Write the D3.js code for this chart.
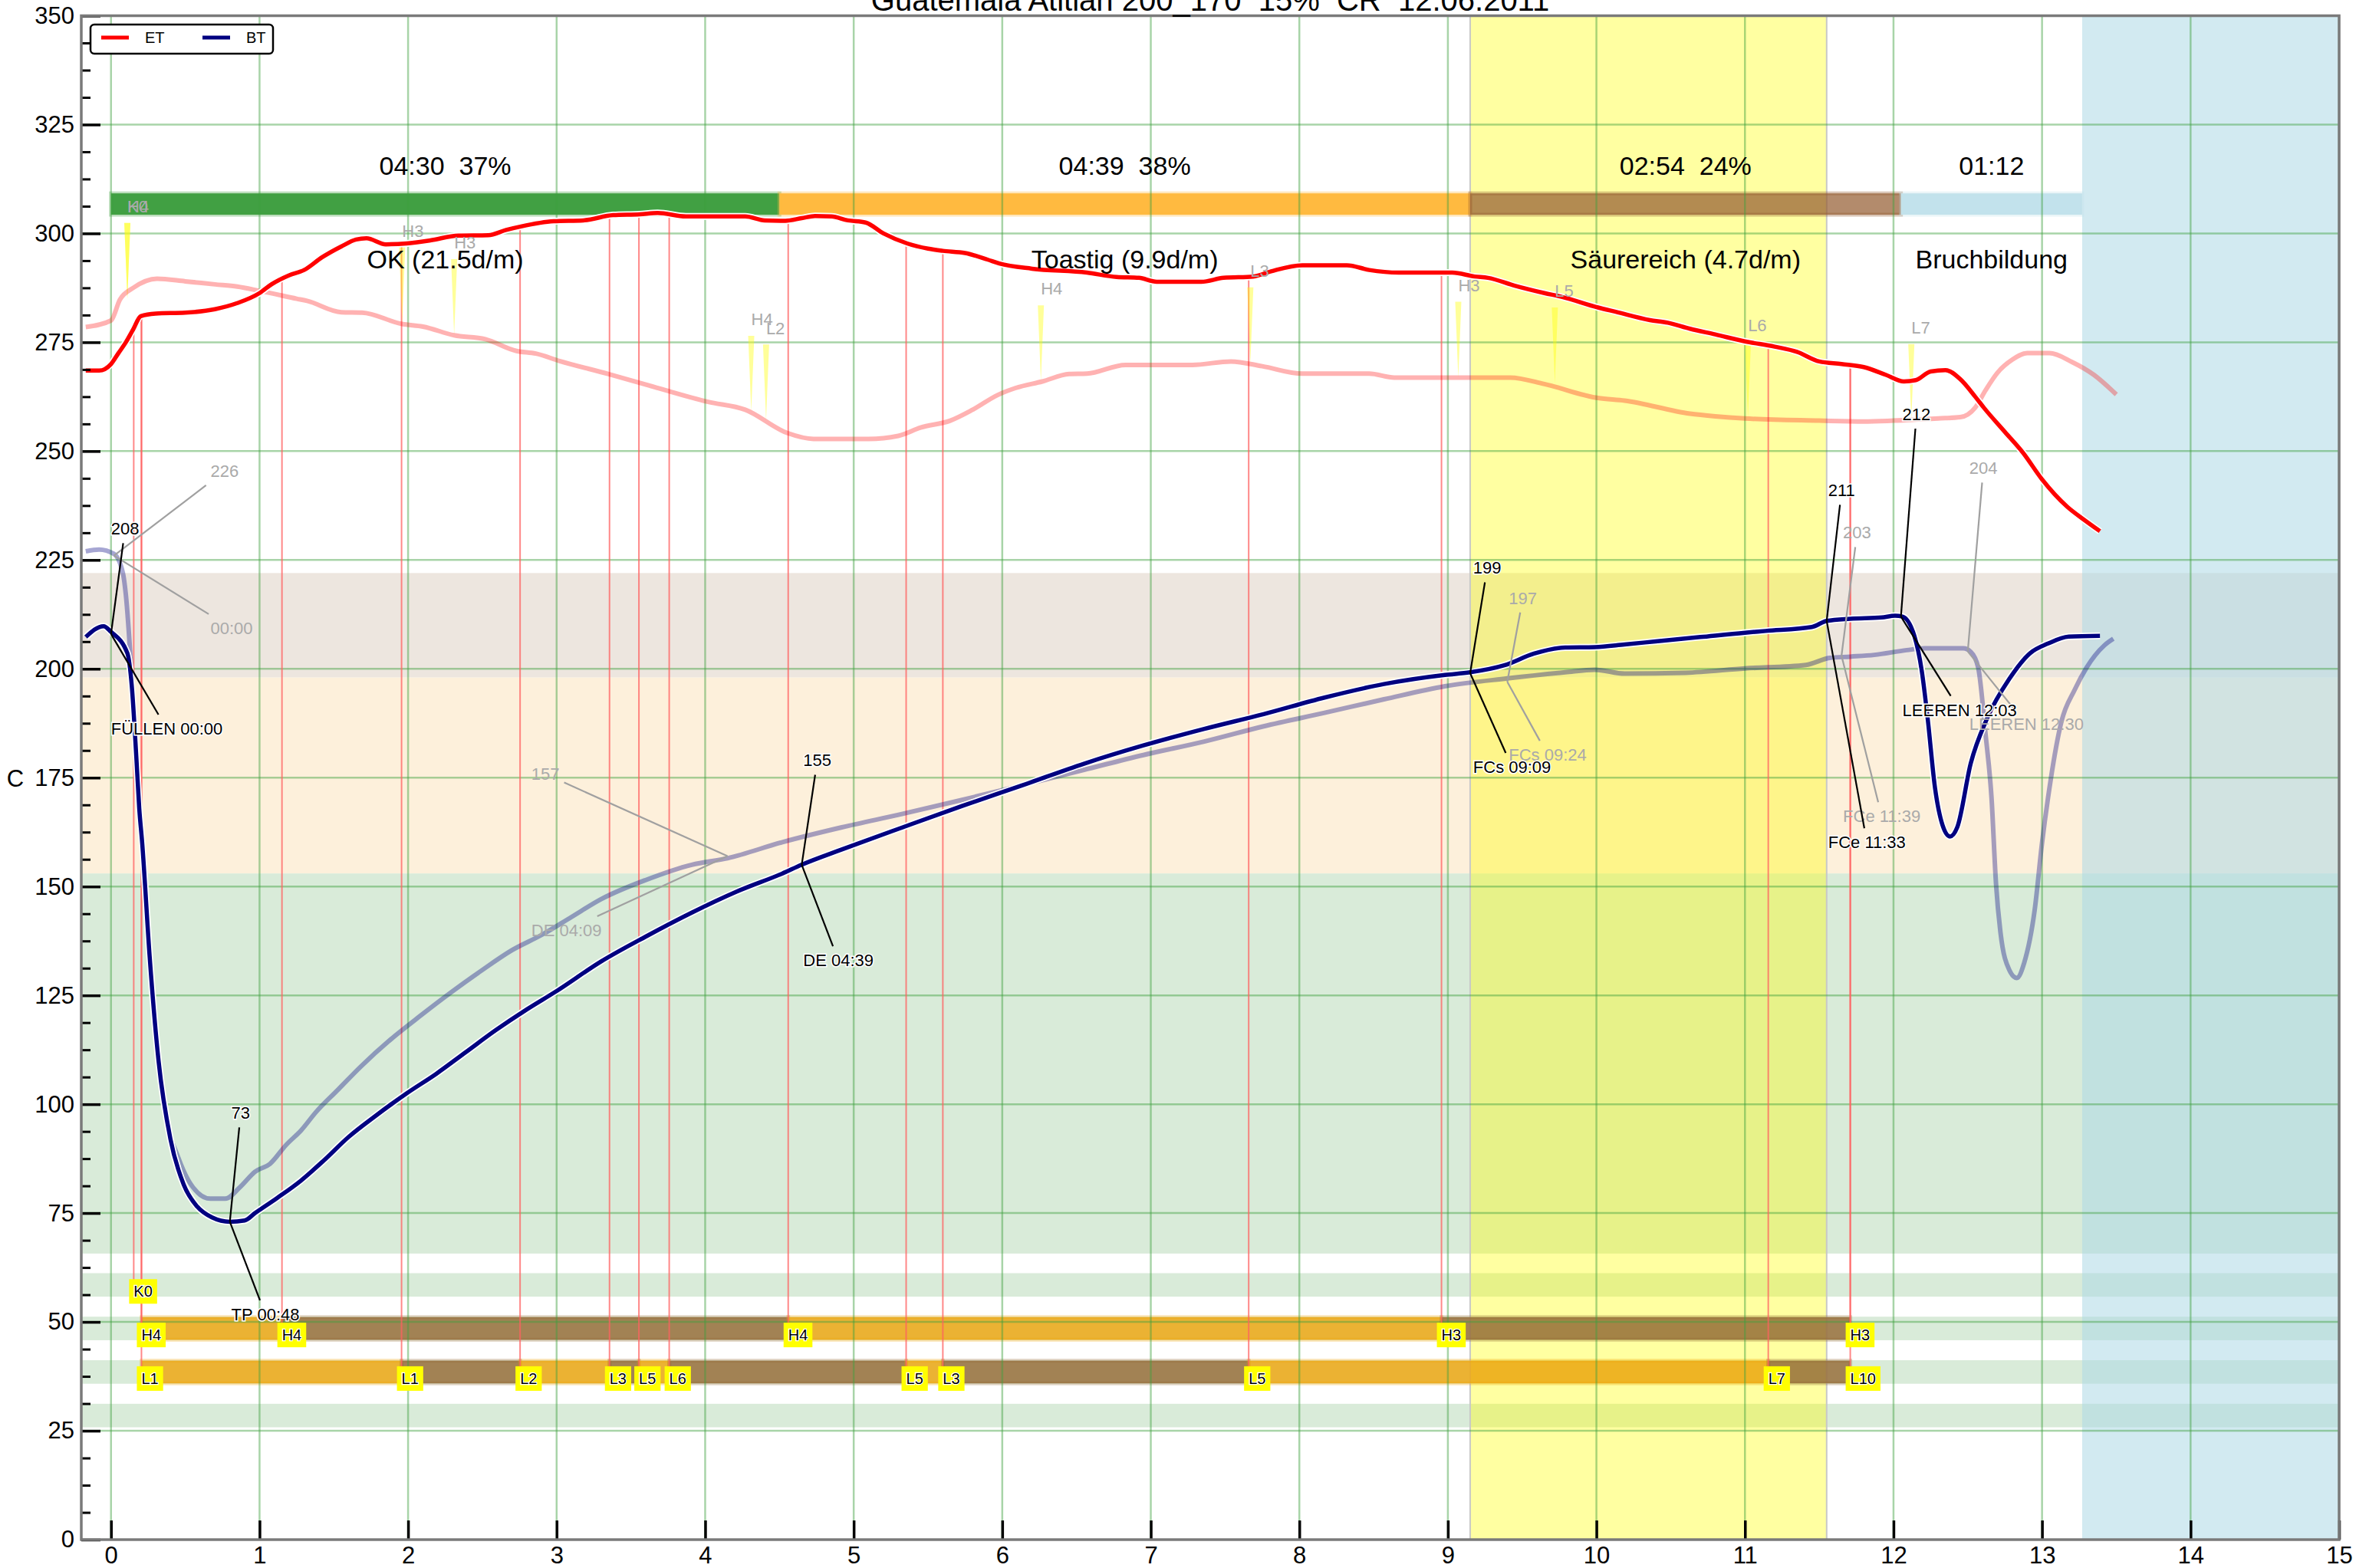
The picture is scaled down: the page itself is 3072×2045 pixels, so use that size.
<!DOCTYPE html>
<html>
<head>
<meta charset="utf-8">
<script src="https://cdn.jsdelivr.net/npm/d3@7/dist/d3.min.js"></script>
<style>
  html, body { margin: 0; padding: 0; background: #fff; }
  svg { display: block; font-family: "Liberation Sans", Arial, sans-serif; }
  .pre { white-space: pre; }
</style>
</head>
<body>
<svg id="chart" width="3072" height="2045"></svg>
<script>
// ---- data (minutes, degrees) ----
const title = "Guatemala Atitlan 200_170  15%  CR  12.06.2011";

const ET = [[-0.17,268.5],[-0.08,268.5],[0.0,270],[0.05,272.5],[0.1,275],[0.15,278],[0.2,281],[0.3,281.6],[0.5,281.8],[0.7,282.6],[0.85,284],[1.0,286.3],[1.08,288.3],[1.2,290.4],[1.3,291.6],[1.42,294.5],[1.55,297],[1.65,298.6],[1.72,298.9],[1.85,297.5],[1.99,297.7],[2.15,298.4],[2.34,299.5],[2.54,299.6],[2.66,300.8],[2.76,301.6],[2.98,302.8],[3.18,303],[3.38,304.2],[3.56,304.4],[3.68,304.7],[3.87,303.9],[4.27,303.9],[4.4,303],[4.54,302.9],[4.65,303.5],[4.74,304],[4.85,303.9],[4.96,303],[5.08,302.5],[5.2,300],[5.36,297.7],[5.5,296.5],[5.6,296],[5.75,295.5],[5.9,294],[5.98,293.1],[6.2,291.9],[6.57,291],[6.77,290],[6.92,289.8],[7.04,288.9],[7.34,288.9],[7.49,289.8],[7.69,290.1],[7.81,291.3],[8.02,292.7],[8.32,292.7],[8.47,291.6],[8.67,291],[9.03,291],[9.18,290.1],[9.27,289.8],[9.45,288],[9.65,286.3],[9.77,285.4],[10.01,283],[10.13,282],[10.36,280.1],[10.48,279.5],[10.63,278.1],[10.8,276.8],[11.0,275.2],[11.2,274],[11.35,272.8],[11.5,270.6],[11.65,270],[11.8,269.3],[11.95,267.5],[12.07,266],[12.15,266.3],[12.25,268.3],[12.35,268.6],[12.45,266.5],[12.55,262.5],[12.61,259.9],[12.75,254.4],[12.87,249.7],[13.0,243.5],[13.17,237.2],[13.28,234.3],[13.39,231.6]];

const BT = [[-0.17,207.3],[-0.05,209.8],[0.0,208.5],[0.11,203.6],[0.14,196],[0.17,180],[0.19,168],[0.21,160],[0.26,134],[0.32,110],[0.4,92],[0.49,81.5],[0.58,76.5],[0.68,74],[0.8,73],[0.9,73.3],[0.97,75],[1.12,78.5],[1.28,82.5],[1.43,87],[1.6,92.5],[1.78,97.3],[1.99,102.5],[2.19,107],[2.39,112],[2.59,117],[2.8,121.8],[3.0,126],[3.3,132.8],[3.6,138.5],[3.91,144],[4.21,148.8],[4.52,153],[4.65,155],[4.92,158.5],[5.33,163.6],[5.73,168.5],[6.14,173.3],[6.55,178.2],[6.95,182.4],[7.36,186.2],[7.76,189.6],[8.17,193.4],[8.57,196.5],[8.98,198.6],[9.15,199.2],[9.38,200.8],[9.58,203.5],[9.79,204.9],[9.99,205],[10.19,205.6],[10.4,206.3],[10.7,207.3],[11.0,208.3],[11.14,208.7],[11.45,209.6],[11.55,211],[11.71,211.5],[11.92,211.8],[12.01,212.2],[12.06,212],[12.14,207.6],[12.19,199.6],[12.23,188.6],[12.28,172.5],[12.33,164.1],[12.38,161.5],[12.43,163.7],[12.52,178.3],[12.63,188.6],[12.78,197.7],[12.92,203.6],[13.04,205.8],[13.18,207.4],[13.39,207.6]];

const bgET = [[-0.17,278.5],[0.0,280],[0.06,284.8],[0.15,287.5],[0.31,289.6],[0.5,289],[0.7,288.3],[0.85,287.8],[1.0,286.8],[1.25,285],[1.32,284.5],[1.55,281.9],[1.69,281.8],[1.96,279.2],[2.1,278.6],[2.31,276.6],[2.52,275.7],[2.73,273],[2.86,272.4],[3.02,270.7],[3.35,267.7],[3.62,265.1],[4.02,261.3],[4.27,259.5],[4.55,254.2],[4.73,252.8],[5.1,252.8],[5.3,253.5],[5.45,255.4],[5.65,257],[5.8,259.5],[5.97,262.9],[6.09,264.5],[6.27,266],[6.45,267.7],[6.57,267.8],[6.83,269.8],[7.28,269.8],[7.54,270.6],[7.75,269.5],[8.02,267.8],[8.47,267.8],[8.64,266.9],[9.42,266.9],[9.65,265.4],[10.01,262.2],[10.19,261.6],[10.63,258.6],[10.8,258],[11.0,257.5],[11.5,257],[11.8,256.8],[12.0,257],[12.3,257.5],[12.45,257.8],[12.55,260],[12.62,264],[12.7,268],[12.8,271],[12.9,272.5],[13.05,272.5],[13.2,270.5],[13.35,267.5],[13.5,263]];

const bgBT = [[-0.17,227],[-0.08,227.4],[0.02,226.4],[0.08,222],[0.1,217],[0.14,198],[0.18,174],[0.22,153],[0.26,132.5],[0.3,115.5],[0.36,98.5],[0.45,88],[0.55,81],[0.67,78.3],[0.77,78.3],[0.87,81],[0.97,84.5],[1.07,86.3],[1.18,90.7],[1.28,94],[1.38,98.2],[1.53,103.4],[1.68,108.6],[1.88,114.8],[2.09,120.5],[2.29,125.7],[2.49,130.6],[2.7,135.4],[2.9,138.9],[3.1,143],[3.3,147.1],[3.6,151.5],[3.91,155],[4.15,156.5],[4.52,160.2],[4.92,163.6],[5.33,166.7],[5.73,169.9],[6.14,173.3],[6.55,176.8],[6.95,180.2],[7.36,183.3],[7.76,186.8],[8.17,189.9],[8.57,193],[8.98,196],[9.4,197.8],[9.79,199.2],[9.99,199.8],[10.19,198.9],[10.6,199.1],[11.0,200.1],[11.41,200.9],[11.57,202.5],[11.71,202.8],[11.87,203.2],[12.09,204.3],[12.21,204.7],[12.47,204.7],[12.52,203.9],[12.57,200.3],[12.62,184.9],[12.66,170.3],[12.69,150.7],[12.72,139.5],[12.78,130.8],[12.83,129],[12.88,132.5],[12.95,144.5],[13.0,160],[13.04,170.3],[13.13,187.8],[13.22,195.2],[13.3,200.3],[13.42,205.4],[13.48,206.9]];

// roast phases
const phaseStart = [0, 4.5, 9.15, 12.05];
const phaseEnd   = [4.5, 9.15, 12.05, 13.27];
const phaseTimes = ["04:30  37%", "04:39  38%", "02:54  24%", "01:12"];
const phaseNames = ["OK (21.5d/m)", "Toastig (9.9d/m)", "Säurereich (4.7d/m)", "Bruchbildung"];

// first crack window and cooling
const fcWindow = [9.15, 11.55];
const coolWindow = [13.27, 15];

// temperature bands
const bandLow  = [198, 153, 65.7];
const bandHigh = [222, 198, 153];

// event lanes (K, H, L, spare)
const laneNames  = ["K", "H", "L", "X"];
const laneLevels = [58.5, 48.5, 38.5, 28.5];

// foreground events
const evTime  = [0.153, 0.205, 0.205, 1.151, 1.956, 2.754, 3.356, 3.554, 3.758, 4.559, 5.353, 5.6, 7.659, 8.957, 11.157, 11.709, 11.709];
const evLabel = ["K0", "H4", "L1", "H4", "L1", "L2", "L3", "L5", "L6", "H4", "L5", "L3", "L5", "H3", "L7", "H3", "L10"];

// background profile events (time, ET value, label)
const bgEvTime  = [0.11, 0.11, 1.96, 2.31, 4.31, 4.41, 6.26, 7.67, 9.07, 9.72, 11.02, 12.12];
const bgEvTemp  = [285, 285, 279.4, 276.7, 259.1, 257.1, 266.1, 270.2, 266.9, 265.6, 257.8, 257.2];
const bgEvLabel = ["K0", "H4", "H3", "H3", "H4", "L2", "H4", "L3", "H3", "L5", "L6", "L7"];

// annotations: point (t, v), value label position, time label position
const fgAnno = [
  {t: 0,     v: 208, val: "208", time: "FÜLLEN 00:00", tx: 0,     vy: 230.8, ty: 184.9},
  {t: 0.8,   v: 73,  val: "73",  time: "TP 00:48",     tx: 0.81,  vy: 96.6,  ty: 50.4},
  {t: 4.65,  v: 155, val: "155", time: "DE 04:39",     tx: 4.66,  vy: 177.6, ty: 131.7},
  {t: 9.15,  v: 199, val: "199", time: "FCs 09:09",    tx: 9.17,  vy: 221.8, ty: 176.1},
  {t: 11.55, v: 211, val: "211", time: "FCe 11:33",    tx: 11.56, vy: 239.6, ty: 158.8},
  {t: 12.05, v: 212, val: "212", time: "LEEREN 12:03", tx: 12.06, vy: 257.1, ty: 189.2}
];
const bgAnno = [
  {t: 0.02,  v: 226, val: "226", time: "00:00",        tx: 0.67,  vy: 244.1, ty: 208},
  {t: 4.15,  v: 157, val: "157", time: "DE 04:09",     tx: 2.83,  vy: 174.5, ty: 138.6},
  {t: 9.4,   v: 197, val: "197", time: "FCs 09:24",    tx: 9.41,  vy: 214.9, ty: 178.9},
  {t: 11.65, v: 203, val: "203", time: "FCe 11:39",    tx: 11.66, vy: 229.9, ty: 164.8},
  {t: 12.5,  v: 204, val: "204", time: "LEEREN 12:30", tx: 12.51, vy: 244.7, ty: 185.9}
];

const yTicks = d3.range(0, 351, 25);
const xTicks = d3.range(0, 16, 1);

// ---- layout ----
const svg = d3.select("#chart");
const L = 106, R = 3050, T = 20.5, B = 2008;
const x = d3.scaleLinear().domain([-0.2, 15]).range([L, R]);
const y = d3.scaleLinear().domain([0, 350]).range([B, T]);

const phaseColor = ["#41a043", "#ffba40", "#945c30", "#c2e2ec"];
const phaseOpacity = [1, 1, 0.71, 1];
const bandColor = ["#ede6df", "#fdf0db", "#d9ebd9"];

svg.append("defs").append("clipPath").attr("id", "plot")
  .append("rect").attr("x", L).attr("y", T).attr("width", R - L).attr("height", B - T);

const g = svg.append("g").attr("clip-path", "url(#plot)");

// temperature bands
g.selectAll(".band").data(bandLow).enter().append("rect")
  .attr("x", L).attr("width", R - L)
  .attr("y", (d, i) => y(bandHigh[i]))
  .attr("height", (d, i) => y(d) - y(bandHigh[i]))
  .attr("fill", (d, i) => bandColor[i]);

// event lanes
g.selectAll(".lane").data(laneLevels).enter().append("rect")
  .attr("x", L).attr("width", R - L)
  .attr("y", d => y(d + 2.7)).attr("height", d => y(d - 2.7) - y(d + 2.7))
  .attr("fill", "#d9ebd9");

// first crack window, cooling
g.append("rect").attr("x", x(fcWindow[0])).attr("width", x(fcWindow[1]) - x(fcWindow[0]))
  .attr("y", T).attr("height", B - T).attr("fill", "#ffff00").attr("fill-opacity", 0.37);
[fcWindow[0], fcWindow[1]].forEach(t => g.append("line")
  .attr("x1", x(t)).attr("x2", x(t)).attr("y1", T).attr("y2", B)
  .attr("stroke", "#c8c8c8").attr("stroke-width", 2));
g.append("rect").attr("x", x(coolWindow[0])).attr("width", x(coolWindow[1]) - x(coolWindow[0]))
  .attr("y", T).attr("height", B - T).attr("fill", "#add8e6").attr("fill-opacity", 0.55);

// phase bar
g.selectAll(".phase").data(phaseStart).enter().append("rect")
  .attr("x", d => x(d)).attr("width", (d, i) => x(phaseEnd[i]) - x(d))
  .attr("y", y(309.2)).attr("height", y(304.3) - y(309.2))
  .attr("fill", (d, i) => phaseColor[i]).attr("fill-opacity", (d, i) => phaseOpacity[i])
  .attr("stroke", (d, i) => phaseColor[i]).attr("stroke-opacity", 0.35).attr("stroke-width", 5);

// event bars
const barColor = ["#efa50c", "#966c38"];
const barOpacity = [0.81, 0.83];
laneNames.forEach((ln, li) => {
  const idx = evLabel.map((l, i) => i).filter(i => evLabel[i][0] === ln);
  for (let k = 0; k < idx.length - 1; k++) {
    const t0 = evTime[idx[k]], t1 = evTime[idx[k + 1]];
    const c = k % 2;
    g.append("rect").attr("x", x(t0)).attr("width", x(t1) - x(t0))
      .attr("y", y(laneLevels[li] + 2.6)).attr("height", y(laneLevels[li] - 2.6) - y(laneLevels[li] + 2.6))
      .attr("fill", barColor[c]).attr("fill-opacity", barOpacity[c])
      .attr("stroke", barColor[c]).attr("stroke-opacity", 0.3).attr("stroke-width", 5);
  }
});

// grid
const gridColor = "#3fa03f";
g.selectAll(".vg").data(xTicks).enter().append("line")
  .attr("x1", d => x(d)).attr("x2", d => x(d)).attr("y1", T).attr("y2", B)
  .attr("stroke", gridColor).attr("stroke-opacity", 0.45).attr("stroke-width", 2.5);
g.selectAll(".hg").data(yTicks.filter(d => d > 0 && d < 350)).enter().append("line")
  .attr("x1", L).attr("x2", R).attr("y1", d => y(d)).attr("y2", d => y(d))
  .attr("stroke", gridColor).attr("stroke-opacity", 0.45).attr("stroke-width", 2.5);

// helper: value of a series at t
function valAt(series, t) {
  const i = d3.bisector(d => d[0]).left(series, t);
  if (i <= 0) return series[0][1];
  if (i >= series.length) return series[series.length - 1][1];
  const a = series[i - 1], b = series[i];
  return a[1] + (b[1] - a[1]) * (t - a[0]) / (b[0] - a[0]);
}

// red event lines
evTime.forEach((t, i) => {
  const li = laneNames.indexOf(evLabel[i][0]);
  g.append("line").attr("x1", x(t)).attr("x2", x(t))
    .attr("y1", y(valAt(ET, t))).attr("y2", y(laneLevels[li] - 1.5) - 15)
    .attr("stroke", "#ff6060").attr("stroke-opacity", 0.75).attr("stroke-width", 2);
});

// background event flags
bgEvTime.forEach((t, i) => {
  const v = bgEvTemp[i];
  g.append("path")
    .attr("d", `M${x(t) - 4},${y(v + 17.4)} L${x(t) + 4},${y(v + 17.4)} L${x(t)},${y(v)} Z`)
    .attr("fill", "#ffff00").attr("fill-opacity", 0.4);
});

// curves
const line = d3.line().x(d => x(d[0])).y(d => y(d[1])).curve(d3.curveMonotoneX);
g.append("path").attr("d", line(bgET)).attr("fill", "none")
  .attr("stroke", "#ff0000").attr("stroke-opacity", 0.3).attr("stroke-width", 6);
g.append("path").attr("d", line(bgBT)).attr("fill", "none")
  .attr("stroke", "#000080").attr("stroke-opacity", 0.35).attr("stroke-width", 6);
[[ET, "#ff0000"], [BT, "#000080"]].forEach(([s, c]) => {
  g.append("path").attr("d", line(s)).attr("fill", "none")
    .attr("stroke", "#fff").attr("stroke-width", 9).attr("stroke-linejoin", "round");
  g.append("path").attr("d", line(s)).attr("fill", "none")
    .attr("stroke", c).attr("stroke-width", 5.5).attr("stroke-linejoin", "round");
});

// background event labels
bgEvTime.forEach((t, i) => {
  g.append("text").attr("x", x(t)).attr("y", y(bgEvTemp[i] + 19.8))
    .attr("font-size", 22).attr("fill", "#aaaaaa").text(bgEvLabel[i]);
});

// phase texts
const tg = svg.append("g");
phaseStart.forEach((s, i) => {
  const cx = (x(s) + x(phaseEnd[i])) / 2;
  tg.append("text").attr("class", "pre").attr("x", cx).attr("y", y(313.4))
    .attr("text-anchor", "middle").attr("font-size", 34).text(phaseTimes[i]);
  tg.append("text").attr("class", "pre").attr("x", cx).attr("y", y(291.9))
    .attr("text-anchor", "middle").attr("font-size", 34).text(phaseNames[i]);
});

// annotations
function annotate(a, color, lineColor, halo) {
  const px = x(a.t), py = y(a.v);
  [[a.val, a.vy], [a.time, a.ty]].forEach(([txt, ty]) => {
    const lg = tg.append("g");
    const t = lg.append("text").attr("x", x(a.tx)).attr("y", y(ty))
      .attr("font-size", 22).attr("fill", color).text(txt);
    if (halo) t.attr("stroke", "#fff").attr("stroke-width", 3).attr("paint-order", "stroke");
    const bb = t.node().getBBox();
    const cx = bb.x + bb.width / 2, cy = bb.y + bb.height / 2;
    const hw = bb.width / 2 + 6, hh = bb.height / 2 + 6;
    const dx = px - cx, dy = py - cy;
    const s = Math.min(hw / Math.max(Math.abs(dx), 1e-6), hh / Math.max(Math.abs(dy), 1e-6));
    lg.insert("line", "text").attr("x1", px).attr("y1", py)
      .attr("x2", cx + dx * s).attr("y2", cy + dy * s)
      .attr("stroke", lineColor).attr("stroke-width", 2.2);
  });
}
bgAnno.forEach(a => annotate(a, "#aaaaaa", "#a0a0a0", false));
fgAnno.forEach(a => annotate(a, "#000", "#000", true));

// event label boxes
evTime.forEach((t, i) => {
  const li = laneNames.indexOf(evLabel[i][0]);
  const lb = tg.append("g");
  const tx = lb.append("text").attr("x", x(t)).attr("y", y(laneLevels[li] - 1.5))
    .attr("dominant-baseline", "central").attr("font-size", 20).attr("fill", "#000")
    .attr("stroke", "#fff").attr("stroke-width", 2.5).attr("paint-order", "stroke")
    .text(evLabel[i]);
  const bb = tx.node().getBBox();
  lb.insert("rect", "text").attr("x", bb.x - 6).attr("y", y(laneLevels[li] - 1.5) - 16)
    .attr("width", bb.width + 12).attr("height", 32).attr("fill", "#ffff00");
});

// axes
const ax = svg.append("g");
const yAxis = ax.append("g").attr("transform", `translate(${L},0)`)
  .call(d3.axisLeft(y).tickValues(yTicks).tickSize(-25).tickPadding(9));
const yMinor = ax.append("g").attr("transform", `translate(${L},0)`)
  .call(d3.axisLeft(y).tickValues(d3.range(0, 351, 6.25).filter(d => d % 25 !== 0)).tickSize(-12).tickFormat(""));
const xAxis = ax.append("g").attr("transform", `translate(0,${B})`)
  .call(d3.axisBottom(x).tickValues(xTicks).tickSize(-25).tickPadding(9));
[yAxis, yMinor, xAxis].forEach(a => {
  a.select(".domain").remove();
  a.selectAll(".tick line").attr("stroke", "#000").attr("stroke-width", 3.5);
  a.selectAll(".tick text").attr("font-size", 31).attr("font-family", "Liberation Sans, Arial, sans-serif").attr("fill", "#000");
});
yMinor.selectAll(".tick line").attr("stroke-width", 3);

ax.append("rect").attr("x", L).attr("y", T).attr("width", R - L).attr("height", B - T)
  .attr("fill", "none").attr("stroke", "#7a7a7a").attr("stroke-width", 3.5);

ax.append("text").attr("x", 20).attr("y", (T + B) / 2 + 12).attr("text-anchor", "middle")
  .attr("font-size", 31).text("C");

// title
svg.append("text").attr("class", "pre").attr("x", (L + R) / 2).attr("y", 14)
  .attr("text-anchor", "middle").attr("font-size", 40).text(title);

// legend
const lg = svg.append("g");
lg.append("rect").attr("x", 118).attr("y", 32).attr("width", 238).attr("height", 38).attr("rx", 5)
  .attr("fill", "#fff").attr("stroke", "#000").attr("stroke-width", 2.5);
[["ET", "#ff0000", 132], ["BT", "#000080", 264]].forEach(([n, c, lx]) => {
  lg.append("line").attr("x1", lx).attr("x2", lx + 36).attr("y1", 49).attr("y2", 49)
    .attr("stroke", c).attr("stroke-width", 5);
  lg.append("text").attr("x", lx + 57).attr("y", 56).attr("font-size", 20).text(n);
});
</script>
</body>
</html>
